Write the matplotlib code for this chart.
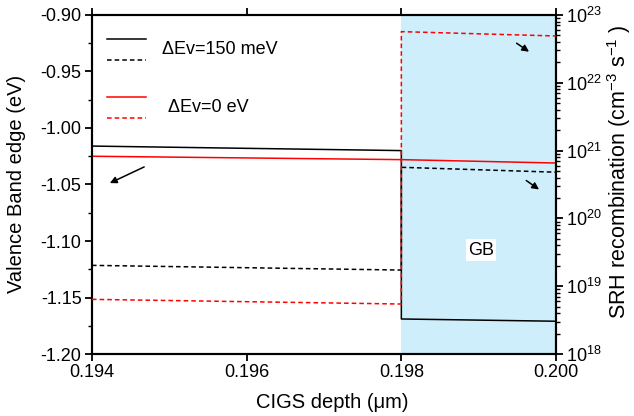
import matplotlib
matplotlib.use("Agg")
import matplotlib.pyplot as plt
from matplotlib.ticker import LogLocator, NullFormatter
import numpy as np

plt.rcParams['font.family'] = ['Liberation Sans', 'DejaVu Sans']
plt.rcParams['mathtext.fontset'] = 'custom'
plt.rcParams['mathtext.rm'] = 'Liberation Sans'
plt.rcParams['mathtext.it'] = 'Liberation Sans:italic'

# Valence band edge (left axis, eV)
vb_150_x = [0.194, 0.198, 0.198, 0.200]
vb_150_y = [-1.016, -1.020, -1.169, -1.171]
vb_0_x = [0.194, 0.198, 0.200]
vb_0_y = [-1.025, -1.028, -1.031]

# SRH recombination (right axis, cm^-3 s^-1)
srh_150_x = [0.194, 0.198, 0.198, 0.200]
srh_150_y = [2.03e19, 1.73e19, 5.67e20, 4.8e20]
srh_0_x = [0.194, 0.198, 0.198, 0.200]
srh_0_y = [6.4e18, 5.46e18, 5.68e22, 4.9e22]

gb_start, gb_end = 0.198, 0.200
xticks = [0.194, 0.196, 0.198, 0.200]
yticks = [-1.20, -1.15, -1.10, -1.05, -1.00, -0.95, -0.90]

W, H = 634, 416
fig = plt.figure(figsize=(6.34, 4.16), dpi=100)
ax = fig.add_axes([0.1451, 0.149, 0.7319, 0.815])
ax.axvspan(gb_start, gb_end, color='#cdeefa', zorder=0, lw=0)

ax.plot(vb_150_x, vb_150_y, color='black', lw=1.1, zorder=3)
ax.plot(vb_0_x, vb_0_y, color='#ff0000', lw=1.1, zorder=3)

ax.set_xlim(0.194, 0.200)
ax.set_ylim(-1.20, -0.90)
ax.set_xticks(xticks)
ax.set_xticklabels([f"{v:.3f}" for v in xticks])
ax.set_yticks(yticks)
ax.set_yticklabels([f"{v:.2f}" for v in yticks])
ax.set_yticks(np.arange(-1.175, -0.90, 0.05), minor=True)
ax.tick_params(axis='both', which='major', direction='out', length=5, width=1.3, labelsize=13, pad=2.5, top=True)
ax.tick_params(axis='y', which='minor', direction='out', length=3, width=1.0)
for s in ax.spines.values():
    s.set_linewidth(1.5)

ax2 = ax.twinx()
ax2.set_yscale('log')
ax2.set_ylim(1e18, 1e23)
ax2.plot(srh_150_x, srh_150_y, color='black', lw=1.1, ls=(0, (3, 2)), zorder=3)
ax2.plot(srh_0_x, srh_0_y, color='#ff0000', lw=1.1, ls=(0, (3, 2)), zorder=3)
ax2.set_yticks([1e18, 1e19, 1e20, 1e21, 1e22, 1e23])
ax2.set_yticklabels([r'$10^{%d}$' % e for e in range(18, 24)])
ax2.yaxis.set_minor_locator(LogLocator(base=10, subs=np.arange(2, 10), numticks=100))
ax2.yaxis.set_minor_formatter(NullFormatter())
ax2.tick_params(axis='y', which='major', direction='out', length=5, width=1.3, labelsize=13, pad=2.5)
ax2.tick_params(axis='y', which='minor', direction='out', length=3, width=1.0)
for s in ax2.spines.values():
    s.set_linewidth(1.5)

# Axis labels
fig.text(17 / W, 1 - 184 / H, 'Valence Band edge (eV)', fontsize=14.5, rotation=90,
         ha='center', va='center')
fig.text(332 / W, 1 - 402 / H, 'CIGS depth (μm)', fontsize=14.5, ha='center', va='center')
fig.text(619 / W, 1 - 172 / H, r'SRH recombination (cm$^{-3}$ s$^{-1}$ )', fontsize=15.5,
         rotation=90, ha='center', va='center')

# Legend drawn manually
ax.plot([0.19420, 0.19470], [-0.9212, -0.9212], color='black', lw=1.1)
ax.plot([0.19420, 0.19470], [-0.9398, -0.9398], color='black', lw=1.1, ls=(0, (3, 2)))
ax.text(0.19491, -0.9305, 'ΔEv=150 meV', fontsize=13, va='center', ha='left')
ax.plot([0.19420, 0.19470], [-0.9726, -0.9726], color='#ff0000', lw=1.1)
ax.plot([0.19420, 0.19470], [-0.9912, -0.9912], color='#ff0000', lw=1.1, ls=(0, (3, 2)))
ax.text(0.19498, -0.9819, 'ΔEv=0 eV', fontsize=13, va='center', ha='left')

# Arrows
arrow_kw = dict(arrowstyle='-|>', color='black', lw=1.1, mutation_scale=10)
ax.annotate('', xy=(0.194198, -1.0498), xytext=(0.194707, -1.0334), arrowprops=arrow_kw, zorder=5)
ax.annotate('', xy=(0.199681, -0.9339), xytext=(0.199461, -0.9236), arrowprops=arrow_kw, zorder=5)
ax.annotate('', xy=(0.199810, -1.0558), xytext=(0.199586, -1.0451), arrowprops=arrow_kw, zorder=5)

ax.text(0.19903, -1.108, 'GB', fontsize=13, ha='center', va='center',
        bbox=dict(facecolor='white', edgecolor='none', pad=1.5), zorder=5)

fig.savefig('out.png', dpi=100)
